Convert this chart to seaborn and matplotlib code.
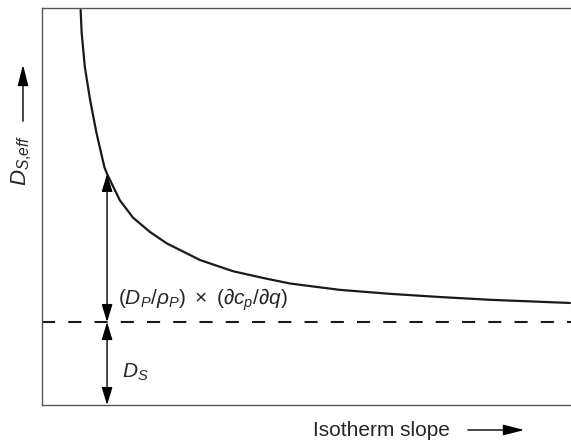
import numpy as np
import pandas as pd
import matplotlib
matplotlib.use('Agg')
import matplotlib.pyplot as plt
import seaborn as sns

# Curve points (isotherm slope vs effective diffusivity, arbitrary units)
slope = [0.73, 0.75, 0.81, 0.91, 1.03, 1.18, 1.23, 1.47, 1.72, 2.04, 2.36, 2.99,
         3.61, 4.18, 4.69, 5.63, 6.58, 7.52, 8.47, 9.98]
d_eff = [9.95, 9.37, 8.51, 7.68, 6.85, 5.99, 5.82, 5.16, 4.72, 4.36, 4.07, 3.65,
         3.37, 3.20, 3.06, 2.90, 2.80, 2.72, 2.65, 2.57]
d_s = 2.09          # surface diffusion level (dashed line)
arrow_x = 1.23      # where the two double arrows sit
curve_at_arrow = 5.82

sns.set_style('white')
plt.rcParams['font.family'] = ['Liberation Sans', 'DejaVu Sans']
plt.rcParams['mathtext.fontset'] = 'custom'
plt.rcParams['mathtext.rm'] = 'Liberation Sans'
plt.rcParams['mathtext.it'] = 'Liberation Sans:italic'
plt.rcParams['mathtext.bf'] = 'Liberation Sans:bold'

fig = plt.figure(figsize=(5.71, 4.42), dpi=100)
ax = fig.add_axes([42 / 571, 37 / 442, 529 / 571, 397 / 442])

df = pd.DataFrame({'slope': slope, 'deff': d_eff})
sns.lineplot(data=df, x='slope', y='deff', ax=ax, color='#1a1a1a', lw=1.6, sort=False)
ax.axhline(d_s, color='#1a1a1a', lw=1.5, ls=(0, (6.3, 6.3)))

ax.set_xlim(0, 10)
ax.set_ylim(0, 10)
ax.set_xticks([])
ax.set_yticks([])
ax.set_xlabel('')
ax.set_ylabel('')
for side in ['left', 'top', 'bottom']:
    ax.spines[side].set_color('#555555')
    ax.spines[side].set_linewidth(1.0)
ax.spines['right'].set_visible(False)

# double arrows
head = '<|-|>,head_length=0.72,head_width=0.22'
ax.annotate('', xy=(arrow_x, curve_at_arrow), xytext=(arrow_x, d_s),
            arrowprops=dict(arrowstyle=head, mutation_scale=15, lw=1.0, color='black',
                            shrinkA=0, shrinkB=0))
ax.annotate('', xy=(arrow_x, d_s), xytext=(arrow_x, 0),
            arrowprops=dict(arrowstyle=head, mutation_scale=15, lw=1.0, color='black',
                            shrinkA=0, shrinkB=0))

ax.text(1.44, 2.64, r'$(D_P/\rho_P)\ \times\ (\partial c_p/\partial q)$', fontsize=15,
        ha='left', va='center')
ax.text(1.51, 0.83, r'$D_S$', fontsize=15, ha='left', va='center')

# axis labels with arrows
fig.text(22 / 571, 1 - 160 / 442, r'$D_{S{,}eff}$', rotation=90, fontsize=16,
         ha='center', va='center')
fig.text(381 / 571, 1 - 430 / 442, 'Isotherm slope', fontsize=15,
         ha='center', va='center')
lab_head = '-|>,head_length=0.86,head_width=0.22'
fig.add_artist(matplotlib.patches.FancyArrowPatch(
    (23 / 571, 1 - 124 / 442), (23 / 571, 1 - 62 / 442), transform=fig.transFigure,
    arrowstyle=lab_head, mutation_scale=15, lw=1.0, color='black'))
fig.add_artist(matplotlib.patches.FancyArrowPatch(
    (465 / 571, 1 - 430 / 442), (527 / 571, 1 - 430 / 442), transform=fig.transFigure,
    arrowstyle=lab_head, mutation_scale=15, lw=1.0, color='black'))

fig.savefig('out.png', dpi=100)
